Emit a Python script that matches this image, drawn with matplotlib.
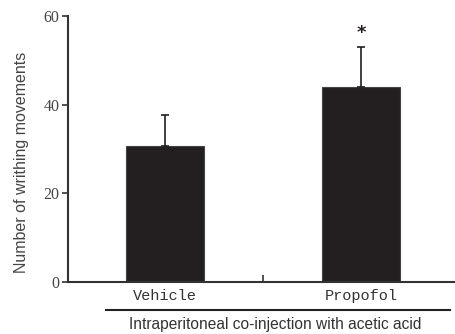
import numpy as np
import matplotlib.pyplot as plt

# DATOS

grupos = ["Vehicle", "Propofol"]
medias = [30.8, 43.9]
errores = [6.9, 9.2]
signif = ["", "*"]

fig = plt.figure(figsize=(4.55, 3.34), dpi=100)
ax = fig.add_axes([0.1495, 0.1557, 0.8505, 0.796])

x = np.arange(len(grupos))
ax.bar(x, medias, width=0.4, color="#231f20", edgecolor="#444444", linewidth=0.8,
       yerr=[[0] * len(errores), errores], capsize=3,
       error_kw=dict(ecolor="#231f20", elinewidth=1.2, capthick=1.2))

for xi, m, e, s in zip(x, medias, errores, signif):
    if s:
        ax.text(xi, m + e + 1.0, s, ha="center", va="bottom", fontsize=13,
                fontweight="bold", color="#231f20", family="DejaVu Sans")

ax.set_xlim(-0.495, 1.48)
ax.set_ylim(0, 60)
ax.set_yticks([0, 20, 40, 60])
ax.set_yticklabels(["0", "20", "40", "60"], family="Liberation Serif", fontsize=11.5,
                   color="#444444")
ax.set_xticks(x)
ax.set_xticklabels(grupos, family="Liberation Mono", fontsize=11, color="#333333")
ax.set_xticks([0.5], minor=True)
ax.tick_params(axis="x", which="major", length=0, pad=5)
ax.tick_params(axis="x", which="minor", direction="in", length=5, width=1.2,
               color="#333333")
ax.tick_params(axis="y", direction="out", length=4, width=1.2, color="#333333", pad=2)

for lado in ["top", "right"]:
    ax.spines[lado].set_visible(False)
for lado in ["left", "bottom"]:
    ax.spines[lado].set_linewidth(1.5)
    ax.spines[lado].set_color("#333333")

ax.set_ylabel("Number of writhing movements", family="Liberation Sans", fontsize=11.5,
              color="#444444", va="center")
ax.yaxis.set_label_coords(-0.121, 0.45)

# LINEA INFERIOR Y TITULO DEL EJE

fig.add_artist(plt.Line2D([106 / 455, 450 / 455], [1 - 310 / 334, 1 - 310 / 334],
                          color="#222222", linewidth=1.5))
fig.text(275 / 455, 1 - 325 / 334, "Intraperitoneal co-injection with acetic acid",
         ha="center", va="center", family="Liberation Sans", fontsize=11.2,
         color="#333333")

plt.savefig("out.png", dpi=100)
